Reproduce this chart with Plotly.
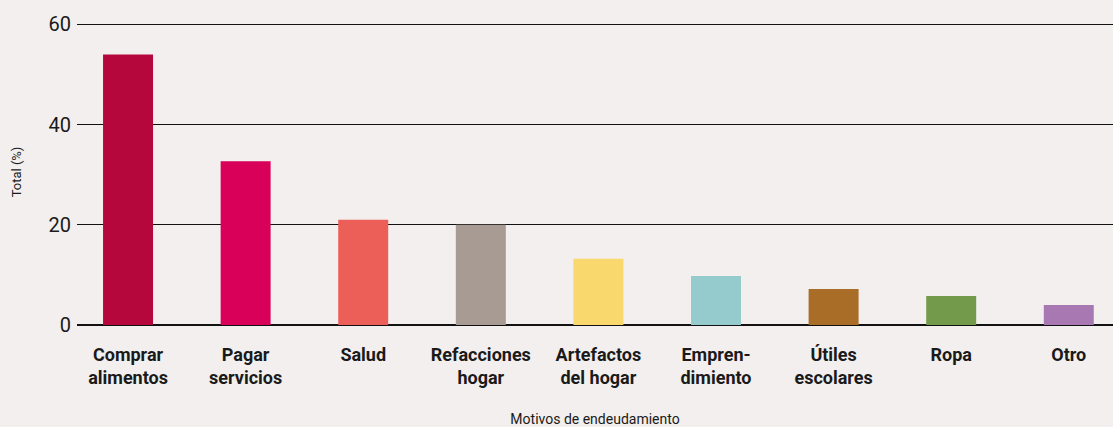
import plotly.graph_objects as go

categories = ["Comprar<br>alimentos", "Pagar<br>servicios", "Salud", "Refacciones<br>hogar",
              "Artefactos<br>del hogar", "Empren-<br>dimiento", "Útiles<br>escolares", "Ropa", "Otro"]
values = [54.0, 32.7, 21.0, 20.0, 13.2, 9.8, 7.2, 5.8, 4.0]
colors = ["#B5073C", "#D9005A", "#EC5F59", "#A89B93", "#F9D86E", "#95CBCD", "#A96D27", "#729A4A", "#A878B2"]
y_ticks = [0, 20, 40, 60]

bg = "#F2EFEE"
fig = go.Figure(go.Bar(x=categories, y=values, marker=dict(color=colors, line=dict(width=0)),
                       width=0.425))
fig.update_layout(
    width=1113, height=427, paper_bgcolor=bg, plot_bgcolor=bg,
    margin=dict(l=77, r=0, t=19, b=102),
    font=dict(family="Roboto, sans-serif", color="#1a1a1a"),
    showlegend=False,
    xaxis=dict(range=[-0.434, 8.376], showgrid=False, showline=False, zeroline=False,
               ticks="outside", ticklen=13, tickcolor="rgba(0,0,0,0)",
               tickfont=dict(size=18, family="Roboto, sans-serif", weight="bold", color="#1a1a1a"),
               title=dict(text="Motivos de endeudamiento", font=dict(size=14), standoff=28)),
    yaxis=dict(range=[0, 61.08], tickvals=y_ticks, showgrid=True, gridcolor="#111", gridwidth=1,
               zeroline=True, zerolinecolor="#111", zerolinewidth=1.5, layer="below traces",
               ticks="", ticklabelstandoff=5, tickfont=dict(size=20, color="#1a1a1a"),
               title=dict(text="Total (%)", font=dict(size=13), standoff=23)),
)
fig.write_html("out.html", config={"displayModeBar": False})

with open("out.html", encoding="utf-8") as f:
    html = f.read()
html = html.replace("<head>", "<head><style>html,body{margin:0;padding:0;background:%s;}</style>" % bg, 1)
with open("out.html", "w", encoding="utf-8") as f:
    f.write(html)
